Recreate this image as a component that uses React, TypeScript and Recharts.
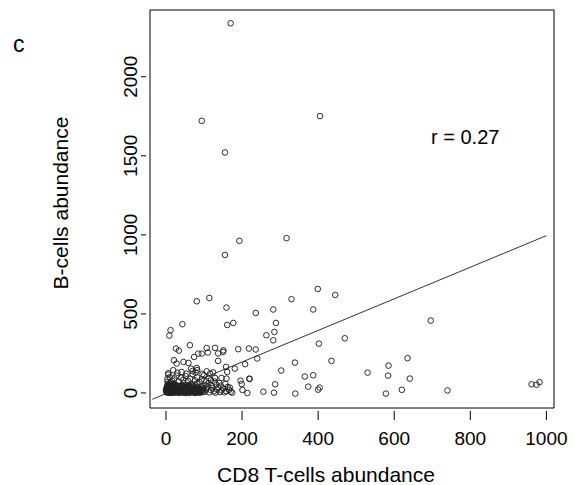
import React from 'react';
import { ComposedChart, Scatter, XAxis, YAxis, ReferenceArea, ReferenceLine } from 'recharts';

// [CD8 T-cells, B-cells] pairs
const sparsePoints: [number, number][] = [
  [170, 2338], [94, 1721], [405, 1751], [155, 1521], [193, 962], [155, 873], [317, 979],
  [399, 658], [445, 620], [114, 601], [81, 580], [330, 593], [159, 540], [236, 506],
  [282, 528], [387, 528], [43, 435], [12, 397], [9, 363], [161, 430], [177, 443],
  [289, 443], [285, 386], [264, 365], [282, 333], [402, 312], [435, 203], [339, 192],
  [303, 142], [236, 275], [218, 281], [190, 277], [208, 182], [240, 218], [158, 165],
  [63, 302], [26, 281], [34, 268], [107, 284], [110, 256], [94, 249], [85, 249],
  [129, 285], [137, 250], [150, 260], [151, 270], [74, 228], [21, 207], [28, 186],
  [46, 196], [59, 190], [137, 203], [19, 144], [41, 133], [70, 139], [82, 144],
  [124, 130], [161, 133], [365, 104], [387, 112], [196, 78], [220, 88], [199, 57],
  [287, 55], [340, -4], [284, 2], [256, 8], [214, 0], [201, 19], [374, 40], [404, 34],
  [400, 21], [168, 34], [66, 154], [81, 158], [6, 116], [107, 137], [116, 123],
  [181, 154], [129, 95], [146, 95], [159, 91], [219, 91],
];

const farPoints: [number, number][] = [
  [696, 458], [470, 346], [635, 220], [585, 173], [530, 129], [584, 110], [641, 91],
  [578, -4], [620, 20], [740, 16], [961, 55], [974, 52], [982, 68],
];

const clusterLeft: [number, number][] = [
  [2, 3], [4, 12], [1, 25], [6, 8], [8, 30], [3, 45], [10, 5], [12, 18], [5, 55], [14, 38],
  [16, 2], [18, 22], [7, 15], [20, 48], [22, 10], [9, 62], [24, 30], [11, 0], [26, 6], [13, 52],
  [28, 20], [15, 28], [30, 40], [17, 4], [32, 14], [19, 58], [34, 26], [21, 36], [36, 2], [23, 16],
  [38, 44], [25, 8], [0, 18], [27, 50], [2, 35], [29, 12], [4, 70], [31, 4], [6, 22], [33, 34],
  [8, 50], [35, 18], [10, 28], [37, 6], [12, 42], [39, 24], [14, 10], [1, 8], [16, 34], [3, 28],
  [18, 6], [5, 40], [20, 24], [7, 2], [22, 56], [9, 16], [24, 44], [11, 32], [26, 14], [13, 66],
];

const clusterCore: [number, number][] = [
  [3, 6], [5, 20], [7, 33], [9, 9], [11, 24], [13, 3], [15, 14], [17, 30], [19, 11], [21, 2],
  [23, 26], [25, 38], [27, 4], [29, 22], [31, 32], [33, 10], [35, 42], [37, 14], [39, 4], [41, 34],
  [43, 12], [45, 24], [47, 2], [49, 40], [51, 16], [53, 28], [55, 6], [57, 36], [59, 12], [61, 22],
  [63, 2], [65, 40], [67, 16], [69, 8], [71, 30], [73, 2], [75, 22], [77, 14], [79, 6], [81, 34],
  [83, 2], [85, 18], [87, 10], [89, 28], [91, 4], [2, 14], [6, 44], [10, 38], [14, 20], [18, 44],
  [22, 30], [26, 22], [30, 8], [34, 2], [38, 16], [42, 44], [46, 30], [50, 4], [54, 18], [58, 30],
];

const clusterMid: [number, number][] = [
  [41, 10], [43, 28], [45, 4], [47, 42], [49, 18], [51, 32], [53, 8], [55, 50], [57, 22], [59, 2],
  [61, 38], [63, 14], [65, 26], [67, 6], [69, 46], [71, 20], [73, 34], [75, 10], [77, 4], [79, 28],
  [81, 16], [83, 40], [85, 8], [87, 24], [89, 2], [91, 36], [93, 14], [95, 20], [97, 6], [99, 30],
  [42, 52], [46, 62], [50, 12], [54, 36], [58, 48], [62, 4], [66, 54], [70, 12], [74, 42], [78, 22],
  [82, 58], [86, 30], [90, 10], [94, 44], [98, 16], [44, 20], [52, 0], [60, 26], [68, 32], [76, 0],
];

const clusterRight: [number, number][] = [
  [102, 8], [106, 24], [110, 40], [114, 4], [118, 18], [122, 30], [126, 10], [130, 2], [134, 22],
  [138, 36], [142, 6], [146, 16], [150, 28], [154, 4], [158, 12], [162, 38], [166, 20], [170, 8],
  [174, 2], [104, 50], [112, 62], [120, 48], [132, 54], [144, 46], [156, 58], [128, 72], [140, 64],
];

const clusterUpper: [number, number][] = [
  [4, 88], [10, 100], [16, 78], [22, 92], [28, 110], [34, 72], [40, 96], [46, 84], [52, 106],
  [58, 76], [64, 90], [70, 118], [76, 80], [82, 98], [88, 70], [94, 86], [100, 112], [106, 74],
  [112, 94], [118, 82], [6, 125], [30, 128], [54, 122], [78, 130], [96, 120],
];

// fitted regression line end points
const fitX = [-36, 1000];
const fitY = [-40, 995];

const xTicks = [0, 200, 400, 600, 800, 1000];
const yTicks = [0, 500, 1000, 1500, 2000];
const xDomain = [-42, 1020];
const yDomain = [-95, 2422];

const FONT = '"Liberation Sans", Arial, Helvetica, sans-serif';

const points = [
  ...sparsePoints,
  ...farPoints,
  ...clusterLeft,
  ...clusterCore,
  ...clusterMid,
  ...clusterRight,
  ...clusterUpper,
].map(([x, y]) => ({ x, y }));

const OpenCircle = (props: any) => {
  const { cx, cy } = props;
  if (cx == null || cy == null) return null;
  return <circle cx={cx} cy={cy} r={2.8} fill="none" stroke="#222" strokeWidth={0.95} />;
};

const XTick = ({ x, y, payload }: any) => (
  <g>
    <line x1={x} x2={x} y1={y + 3} y2={y + 12} stroke="#000" strokeWidth={1} />
    <text x={x} y={y + 37} textAnchor="middle" fontSize={19} fontFamily={FONT} fill="#000">
      {payload.value}
    </text>
  </g>
);

const YTick = ({ x, y, payload }: any) => (
  <g>
    <line x1={x - 9} x2={x - 4} y1={y} y2={y} stroke="#000" strokeWidth={1} />
    <text
      x={137}
      y={y}
      transform={`rotate(-90, 137, ${y})`}
      textAnchor="middle"
      fontSize={19}
      fontFamily={FONT}
      fill="#000"
    >
      {payload.value}
    </text>
  </g>
);

export default function App() {
  return (
    <div style={{ position: 'absolute', left: 0, top: 0, width: 574, height: 485, background: '#fff' }}>
      <ComposedChart width={574} height={485} margin={{ top: 10, right: 20, bottom: 0, left: 0 }}>
        <XAxis
          type="number"
          dataKey="x"
          domain={xDomain}
          ticks={xTicks}
          allowDataOverflow
          height={77}
          axisLine={false}
          tickLine={false}
          tickSize={0}
          tickMargin={0}
          tick={<XTick />}
          label={{
            content: () => (
              <text x={326} y={482} textAnchor="middle" fontSize={21} fontFamily={FONT} fill="#000">
                CD8 T-cells abundance
              </text>
            ),
          }}
        />
        <YAxis
          type="number"
          dataKey="y"
          domain={yDomain}
          ticks={yTicks}
          allowDataOverflow
          width={150}
          axisLine={false}
          tickLine={false}
          tickSize={0}
          tickMargin={0}
          tick={<YTick />}
          label={{
            content: () => (
              <text
                x={68}
                y={203}
                transform="rotate(-90, 68, 203)"
                textAnchor="middle"
                fontSize={21}
                fontFamily={FONT}
                fill="#000"
              >
                B-cells abundance
              </text>
            ),
          }}
        />
        <ReferenceArea
          x1={xDomain[0]}
          x2={xDomain[1]}
          y1={yDomain[0]}
          y2={yDomain[1]}
          fill="none"
          fillOpacity={0}
          stroke="#000"
          strokeWidth={1}
          ifOverflow="visible"
        />
        <ReferenceLine
          segment={[
            { x: fitX[0], y: fitY[0] },
            { x: fitX[1], y: fitY[1] },
          ]}
          stroke="#333"
          strokeWidth={1}
          ifOverflow="visible"
        />
        <Scatter data={points} shape={<OpenCircle />} isAnimationActive={false} />
      </ComposedChart>
      <div style={{ position: 'absolute', left: 13, top: 33, fontSize: 23, fontFamily: FONT, lineHeight: '23px' }}>c</div>
      <div
        style={{ position: 'absolute', left: 431, top: 127, fontSize: 20, fontFamily: FONT, lineHeight: '20px', whiteSpace: 'nowrap' }}
      >
        r = 0.27
      </div>
    </div>
  );
}
